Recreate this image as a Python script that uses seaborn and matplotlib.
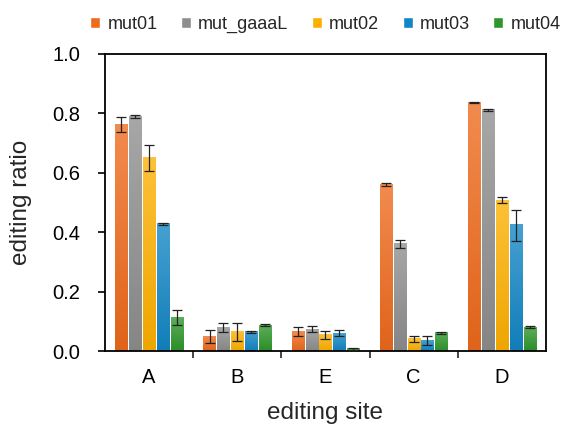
import matplotlib
matplotlib.use("Agg")
import matplotlib.pyplot as plt
import matplotlib.colors as mcolors
import seaborn as sns
import pandas as pd
import numpy as np

sites = ["A", "B", "E", "C", "D"]
mutants = ["mut01", "mut_gaaaL", "mut02", "mut03", "mut04"]
colors = ["#EE6A1C", "#8E8E8E", "#FDB000", "#1286C4", "#2E962B"]

mut01 = [0.762, 0.050, 0.065, 0.560, 0.836]
mut_gaaaL = [0.789, 0.080, 0.073, 0.360, 0.811]
mut02 = [0.650, 0.064, 0.055, 0.042, 0.508]
mut03 = [0.428, 0.065, 0.060, 0.035, 0.424]
mut04 = [0.112, 0.087, 0.007, 0.062, 0.080]

err01 = [0.025, 0.022, 0.015, 0.006, 0.003]
err_gaaaL = [0.005, 0.015, 0.010, 0.013, 0.003]
err02 = [0.045, 0.030, 0.013, 0.010, 0.010]
err03 = [0.003, 0.003, 0.010, 0.015, 0.052]
err04 = [0.025, 0.003, 0.003, 0.003, 0.004]

values = [mut01, mut_gaaaL, mut02, mut03, mut04]
errors = [err01, err_gaaaL, err02, err03, err04]

rows = []
for m, vals, errs in zip(mutants, values, errors):
    for s, v, e in zip(sites, vals, errs):
        rows.append({"site": s, "mutant": m, "ratio": v, "err": e})
df = pd.DataFrame(rows)

sns.set_style("ticks")
plt.rcParams["font.family"] = ["Liberation Sans", "DejaVu Sans"]

fig = plt.figure(figsize=(5.64, 4.24), dpi=100)
ax = fig.add_axes([0.186, 0.172, 0.782, 0.701])

sns.barplot(data=df, x="site", y="ratio", hue="mutant", order=sites,
            hue_order=mutants, palette=colors, errorbar=None,
            width=0.785, gap=0.13, saturation=1, ax=ax, legend=True)


def blend(c, other, t):
    c = np.array(mcolors.to_rgb(c))
    o = np.array(mcolors.to_rgb(other))
    return c * (1 - t) + o * t


# gradient fill (lighter at the top) and error bars
for cont, m, col in zip(ax.containers, mutants, colors):
    top = blend(col, "white", 0.22)
    bot = blend(col, "black", 0.06)
    for p in cont.patches:
        x0, w, h = p.get_x(), p.get_width(), p.get_height()
        n = 64
        t = np.linspace(0, 1, n)[:, None]
        grad = (top[None, :] * (1 - t) + bot[None, :] * t)[:, None, :]
        ax.imshow(grad, extent=[x0, x0 + w, 0, h], origin="upper",
                  aspect="auto", zorder=p.get_zorder() + 0.1,
                  interpolation="bilinear")
    sub = df[df.mutant == m].set_index("site").loc[sites]
    xs = [p.get_x() + p.get_width() / 2 for p in cont.patches]
    ax.errorbar(xs, sub["ratio"].values, yerr=sub["err"].values, fmt="none",
                ecolor="#222222", elinewidth=0.9, capsize=3.5, capthick=0.9,
                zorder=5)

ax.set_ylim(0, 1.0)
ax.set_xlim(-0.5, 4.5)
ax.set_yticks([0, 0.2, 0.4, 0.6, 0.8, 1.0])
ax.set_yticklabels(["0.0", "0.2", "0.4", "0.6", "0.8", "1.0"])
ax.tick_params(axis="y", labelsize=14.5, length=5, width=1.2, direction="out",
               pad=13, colors="black")
ax.set_xticks(range(5))
ax.set_xticklabels(sites)
ax.tick_params(axis="x", labelsize=14.5, length=0, pad=12, colors="black")
ax.set_xticks([0.5, 1.5, 2.5, 3.5], minor=True)
ax.tick_params(axis="x", which="minor", length=5, width=1.2, direction="out")

for side in ["left", "right", "top", "bottom"]:
    ax.spines[side].set_visible(True)
    ax.spines[side].set_linewidth(1.3)
    ax.spines[side].set_color("black")

ax.set_ylabel("editing ratio", fontsize=17.5, labelpad=14)
ax.set_xlabel("editing site", fontsize=17.5, labelpad=11)

leg = ax.legend(loc="lower center", bbox_to_anchor=(0.5, 1.045), ncol=5,
                frameon=False, fontsize=13, handlelength=0.55, handleheight=0.55,
                handletextpad=0.4, columnspacing=1.3, borderaxespad=0)

fig.savefig("out.png", dpi=100)
